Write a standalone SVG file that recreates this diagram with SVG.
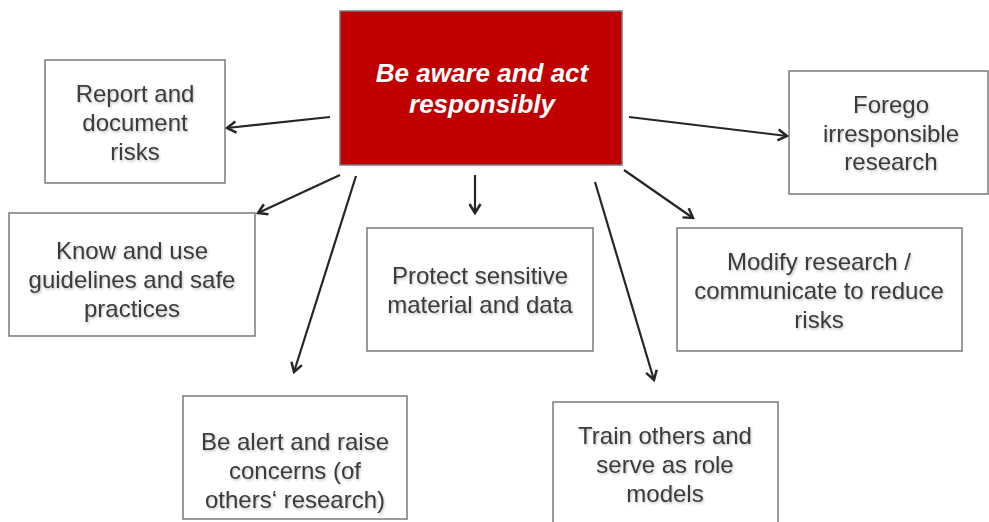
<svg xmlns="http://www.w3.org/2000/svg" width="989" height="522" viewBox="0 0 989 522">
<defs>
<style>
.box{fill:#fff;stroke:#7a7a7a;stroke-width:1.5}
.main{fill:#c00000;stroke:#7a7a7a;stroke-width:1.5}
.t{font-family:"Liberation Sans",Arial,sans-serif;font-size:24px;fill:#3b3b3b;text-anchor:middle;filter:url(#sh)}
.mt{font-family:"Liberation Sans",Arial,sans-serif;font-size:26px;font-weight:bold;font-style:italic;fill:#fff;text-anchor:middle}
.c{stroke:#262626;stroke-width:2.2;fill:none;marker-end:url(#ah)}
</style>
<filter id="sh" x="-10%" y="-30%" width="120%" height="160%">
<feDropShadow dx="1" dy="1.5" stdDeviation="1" flood-color="#000" flood-opacity="0.25"/>
</filter>
<marker id="ah" markerUnits="userSpaceOnUse" markerWidth="16" markerHeight="16" refX="11" refY="7" orient="auto">
<path d="M2,1.5 L11,7 L2,12.5" fill="none" stroke="#262626" stroke-width="2.5"/>
</marker>
</defs>
<g id="connectors">
<line class="c" x1="330" y1="117" x2="227" y2="128"/>
<line class="c" x1="629" y1="117" x2="787" y2="136"/>
<line class="c" x1="340" y1="175" x2="258" y2="213"/>
<line class="c" x1="356" y1="176" x2="294" y2="372"/>
<line class="c" x1="475" y1="175" x2="475" y2="213"/>
<line class="c" x1="624" y1="170" x2="693" y2="218"/>
<line class="c" x1="595" y1="182" x2="654" y2="380"/>
</g>
<g id="center">
<rect class="main" x="340" y="11" width="282" height="154"/>
<text class="mt" x="482" y="82">Be aware and act</text>
<text class="mt" x="482" y="113">responsibly</text>
</g>
<g id="report">
<rect class="box" x="45" y="60" width="180" height="123"/>
<text class="t" x="135" y="102">Report and</text>
<text class="t" x="135" y="131">document</text>
<text class="t" x="135" y="160">risks</text>
</g>
<g id="forego">
<rect class="box" x="789" y="71" width="199" height="123"/>
<text class="t" x="891" y="113">Forego</text>
<text class="t" x="891" y="142">irresponsible</text>
<text class="t" x="891" y="170">research</text>
</g>
<g id="know">
<rect class="box" x="9" y="213" width="246" height="123"/>
<text class="t" x="132" y="259">Know and use</text>
<text class="t" x="132" y="288">guidelines and safe</text>
<text class="t" x="132" y="317">practices</text>
</g>
<g id="protect">
<rect class="box" x="367" y="228" width="226" height="123"/>
<text class="t" x="480" y="284">Protect sensitive</text>
<text class="t" x="480" y="313">material and data</text>
</g>
<g id="modify">
<rect class="box" x="677" y="228" width="285" height="123"/>
<text class="t" x="819" y="270">Modify research /</text>
<text class="t" x="819" y="299">communicate to reduce</text>
<text class="t" x="819" y="328">risks</text>
</g>
<g id="alert">
<rect class="box" x="183" y="396" width="224" height="123"/>
<text class="t" x="295" y="450">Be alert and raise</text>
<text class="t" x="295" y="479">concerns (of</text>
<text class="t" x="295" y="508">others‘ research)</text>
</g>
<g id="train">
<rect class="box" x="553" y="402" width="225" height="130"/>
<text class="t" x="665" y="444">Train others and</text>
<text class="t" x="665" y="473">serve as role</text>
<text class="t" x="665" y="502">models</text>
</g>
</svg>
